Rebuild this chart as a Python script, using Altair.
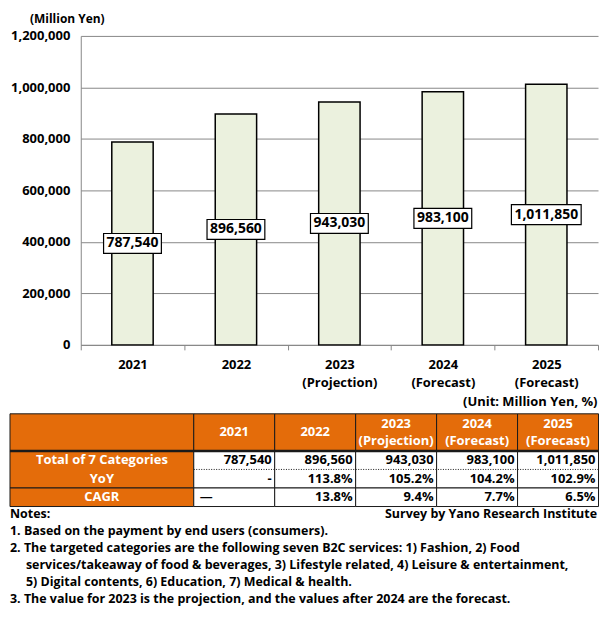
import altair as alt
import pandas as pd

FONT = "Open Sans"
ORANGE = "#E46C0A"
BAR_FILL = "#EBF1DE"
GRID = "#888888"
LINE = "#1a1a1a"

# ---------------- data ----------------
years = ["2021", "2022", "2023\n(Projection)", "2024\n(Forecast)", "2025\n(Forecast)"]
market_size = [787540, 896560, 943030, 983100, 1011850]
yoy = ["-", "113.8%", "105.2%", "104.2%", "102.9%"]
cagr = ["\u2014", "13.8%", "9.4%", "7.7%", "6.5%"]
row_labels = ["Total of 7 Categories", "YoY", "CAGR"]
y_ticks = [0, 200000, 400000, 600000, 800000, 1000000, 1200000]
y_title = "(Million Yen)"
unit_text = "(Unit: Million Yen, %)"
notes_head = "Notes:"
source_text = "Survey by Yano Research Institute"
notes = [
    "1. Based on the payment by end users (consumers).",
    "2. The targeted categories are the following seven B2C services: 1) Fashion, 2) Food",
    "services/takeaway of food & beverages, 3) Lifestyle related, 4) Leisure & entertainment,",
    "5) Digital contents, 6) Education, 7) Medical & health.",
    "3. The value for 2023 is the projection, and the values after 2024 are the forecast.",
]

# ---------------- bar chart ----------------
bar_df = pd.DataFrame({"year": years, "value": market_size})

x_enc = alt.X(
    "year:N", sort=years,
    scale=alt.Scale(paddingInner=0, paddingOuter=0),
    axis=alt.Axis(
        title=None, labelAngle=0, labelExpr="split(datum.label, '\\n')",
        tickBand="extent", ticks=True, tickSize=5, tickColor=GRID,
        domainColor=GRID, labelFont=FONT, labelFontWeight="bold",
        labelFontSize=13, labelColor="black", labelPadding=9, labelLineHeight=18,
    ),
)
y_enc = alt.Y(
    "value:Q", scale=alt.Scale(domain=[0, 1200000]),
    axis=alt.Axis(
        values=y_ticks, format=",d", grid=True, gridColor=GRID, domainColor=GRID,
        ticks=False, labelPadding=11, labelFont=FONT, labelFontWeight="bold",
        labelFontSize=13, labelColor="black",
        title=y_title, titleAngle=0, titleAlign="center", titleBaseline="middle",
        titleX=-14, titleY=-17, titleFont=FONT, titleFontWeight="bold",
        titleFontSize=12, titleColor="black",
    ),
)

base = alt.Chart(bar_df).transform_calculate(
    half="datum.value / 2", label="format(datum.value, ',')"
)

bars = base.mark_bar(
    width={"band": 0.4}, fill=BAR_FILL, stroke="black", strokeWidth=1.5
).encode(x=x_enc, y=y_enc)

box_short = base.transform_filter("length(datum.label) <= 7").mark_bar(
    width=58, fill="white", stroke="black", strokeWidth=1.2, yOffset=-10, y2Offset=10
).encode(x=alt.X("year:N", sort=years), y="half:Q", y2="half:Q")

box_long = base.transform_filter("length(datum.label) > 7").mark_bar(
    width=70, fill="white", stroke="black", strokeWidth=1.2, yOffset=-10, y2Offset=10
).encode(x=alt.X("year:N", sort=years), y="half:Q", y2="half:Q")

val_text = base.mark_text(
    font=FONT, fontWeight="bold", fontSize=14, color="black", baseline="middle"
).encode(x=alt.X("year:N", sort=years), y="half:Q", text="label:N")

bar_chart = alt.layer(bars, box_short, box_long, val_text).properties(width=519, height=310)

# ---------------- table ----------------
LW = 2.27  # label column width in column units
NCOL = LW + len(years)
TOP = -1.3  # space above the table for the unit note, in row units
UNIT = 18.6  # pixels per row unit
xscale = alt.Scale(domain=[0, NCOL], range=[-71, 519.5])
yscale = alt.Scale(domain=[TOP, 5], reverse=True)

cells = []
cells.append({"x0": 0, "x1": LW, "y0": 0, "y1": 2, "kind": "head"})
for j in range(len(years)):
    cells.append({"x0": LW + j, "x1": LW + j + 1, "y0": 0, "y1": 2, "kind": "head"})
cells.append({"x0": 0, "x1": LW, "y0": 2, "y1": 4, "kind": "head"})
cells.append({"x0": 0, "x1": LW, "y0": 4, "y1": 5, "kind": "head"})
for j in range(len(years)):
    cells.append({"x0": LW + j, "x1": LW + j + 1, "y0": 2, "y1": 4, "kind": "body"})
    cells.append({"x0": LW + j, "x1": LW + j + 1, "y0": 4, "y1": 5, "kind": "body"})
cells_df = pd.DataFrame(cells)

tx = alt.X("x0:Q", scale=xscale, axis=None)
ty = alt.Y("y0:Q", scale=yscale, axis=None)

cell_rects = alt.Chart(cells_df).mark_rect(stroke=LINE, strokeWidth=1).encode(
    x=tx, x2="x1:Q", y=ty, y2="y1:Q",
    fill=alt.Fill("kind:N", scale=alt.Scale(domain=["head", "body"], range=[ORANGE, "white"]), legend=None),
)

rules_df = pd.DataFrame([
    {"x0": 0, "x1": NCOL, "y0": 2, "style": "thick"},
    {"x0": LW, "x1": NCOL, "y0": 3, "style": "dot"},
])
thick_rule = alt.Chart(rules_df).transform_filter("datum.style == 'thick'").mark_rule(
    color=LINE, strokeWidth=2.5
).encode(x=tx, x2="x1:Q", y=ty)
dot_rule = alt.Chart(rules_df).transform_filter("datum.style == 'dot'").mark_rule(
    color=LINE, strokeWidth=1, strokeDash=[1, 1.5]
).encode(x=tx, x2="x1:Q", y=ty)

head_rows = []
for j, yr in enumerate(years):
    parts = yr.split("\n")
    if len(parts) == 1:
        head_rows.append({"x0": LW + j + 0.5, "y0": 1.0, "t": parts[0]})
    else:
        head_rows.append({"x0": LW + j + 0.5, "y0": 0.53, "t": parts[0]})
        head_rows.append({"x0": LW + j + 0.5, "y0": 1.47, "t": parts[1]})
head_df = pd.DataFrame(head_rows)
head_text = alt.Chart(head_df).mark_text(
    font=FONT, fontWeight="bold", fontSize=13, color="white", baseline="middle", align="center",
).encode(x=tx, y=ty, text="t:N")

rl_df = pd.DataFrame({"x0": [LW / 2] * 3, "y0": [2.5, 3.5, 4.5], "t": row_labels})
rl_text = alt.Chart(rl_df).mark_text(
    font=FONT, fontWeight="bold", fontSize=13, color="white", baseline="middle", align="center"
).encode(x=tx, y=ty, text="t:N")

vals = []
for j in range(len(years)):
    vals.append({"col": j, "y0": 2.5, "t": f"{market_size[j]:,}"})
    vals.append({"col": j, "y0": 3.5, "t": yoy[j]})
    vals.append({"col": j, "y0": 4.5, "t": cagr[j]})
vals_df = pd.DataFrame(vals)
vals_df["x0"] = LW + vals_df["col"] + 1
vals_df["xl"] = LW + vals_df["col"]
vals_df["left"] = vals_df["t"] == "\u2014"

val_right = alt.Chart(vals_df).transform_filter("!datum.left").mark_text(
    font=FONT, fontWeight="bold", fontSize=13, color="black", baseline="middle", align="right", dx=-3
).encode(x=tx, y=ty, text="t:N")
val_left = alt.Chart(vals_df).transform_filter("datum.left").mark_text(
    font=FONT, fontWeight="bold", fontSize=13, color="black", baseline="middle", align="left", dx=6
).encode(x=alt.X("xl:Q", scale=xscale, axis=None), y=ty, text="t:N")

unit_df = pd.DataFrame({"x0": [NCOL], "y0": [-0.63], "t": [unit_text]})
unit_txt = alt.Chart(unit_df).mark_text(
    font=FONT, fontWeight="bold", fontSize=13, color="black", baseline="middle", align="right", dx=-1
).encode(x=tx, y=ty, text="t:N")

table = alt.layer(cell_rects, thick_rule, dot_rule, head_text, rl_text, val_right, val_left, unit_txt).properties(
    width=519, height=round((5 - TOP) * UNIT, 1),
)

# ---------------- notes ----------------
notes_df = pd.DataFrame({"t": notes, "line": list(range(1, len(notes) + 1))})
notes_df["cont"] = ~notes_df["t"].str.match(r"^\d\. ")
ny = alt.Y("line:Q", scale=alt.Scale(domain=[0, 5], range=[7, 92]), axis=None)

head_notes = pd.DataFrame({"t": [notes_head], "line": [0]})
src_notes = pd.DataFrame({"t": [source_text], "line": [0]})

note_style = dict(font=FONT, fontWeight="bold", fontSize=12.5, color="black", baseline="middle")
n_head = alt.Chart(head_notes).mark_text(align="left", **note_style).encode(
    x=alt.value(-71), y=ny, text="t:N")
n_src = alt.Chart(src_notes).mark_text(align="right", **note_style).encode(
    x=alt.value(518), y=ny, text="t:N")
n_main = alt.Chart(notes_df).transform_filter("!datum.cont").mark_text(align="left", **note_style).encode(
    x=alt.value(-71), y=ny, text="t:N")
n_cont = alt.Chart(notes_df).transform_filter("datum.cont").mark_text(align="left", dx=16, **note_style).encode(
    x=alt.value(-71), y=ny, text="t:N")

notes_chart = alt.layer(n_head, n_src, n_main, n_cont).properties(width=519, height=99)

chart = alt.vconcat(bar_chart, table, notes_chart, spacing=0).properties(
    padding={"top": 4, "left": 0, "right": 0, "bottom": 0}
).configure_view(stroke=None)

chart.save("out.html", embed_options={"renderer": "svg", "actions": False})
